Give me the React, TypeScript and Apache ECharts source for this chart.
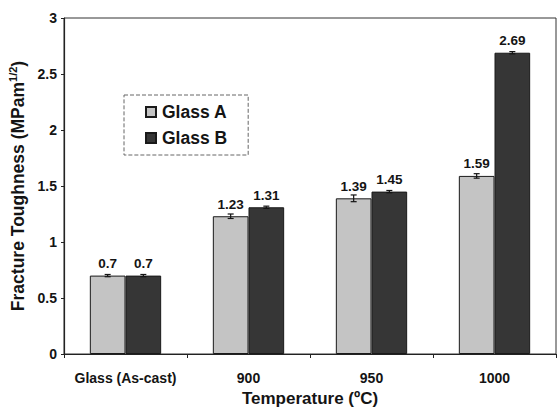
import React, { useEffect, useRef } from "react";
import * as echarts from "echarts";

const categories = ["Glass (As-cast)", "900", "950", "1000"];
const glassA = [0.7, 1.23, 1.39, 1.59];
const glassB = [0.7, 1.31, 1.45, 2.69];
const errA = [0.01, 0.02, 0.03, 0.02];
const errB = [0.01, 0.01, 0.01, 0.01];

const FONT = "'Liberation Sans', Arial, sans-serif";
const INK = "#141414";

export default function App() {
  const ref = useRef<HTMLDivElement>(null);
  useEffect(() => {
    const chart = echarts.init(ref.current!, undefined, { renderer: "svg" });
    const gapPct = 0.42;
    const makeErr = (vals: number[], errs: number[], side: number) => ({
      type: "custom",
      z: 5,
      renderItem: (params: any, api: any) => {
        const i = api.value(0);
        const v = api.value(1);
        const e = api.value(2);
        const band = api.size([1, 0])[0];
        const bw = (band * (1 - gapPct)) / 2;
        const c = api.coord([i, v]);
        const x = c[0] + side * bw / 2;
        const top = api.coord([i, v + e])[1];
        const bot = api.coord([i, v - e])[1];
        const cap = 3;
        const st = { stroke: INK, lineWidth: 1.2 };
        return {
          type: "group",
          children: [
            { type: "line", shape: { x1: x, y1: top, x2: x, y2: bot }, style: st },
            { type: "line", shape: { x1: x - cap, y1: top, x2: x + cap, y2: top }, style: st },
            { type: "line", shape: { x1: x - cap, y1: bot, x2: x + cap, y2: bot }, style: st },
          ],
        };
      },
      data: vals.map((v, i) => [i, v, errs[i]]),
      silent: true,
    });
    const labelStyle = {
      show: true,
      position: "top",
      distance: 5,
      fontFamily: FONT,
      fontWeight: "bold",
      fontSize: 13.5,
      color: INK,
    };
    chart.setOption({
      animation: false,
      backgroundColor: "#fff",
      textStyle: { fontFamily: FONT },
      grid: {
        left: 64,
        right: 1,
        top: 18,
        bottom: 55,
        show: true,
        borderColor: "#333",
        borderWidth: 1,
        outerBoundsMode: "none",
        containLabel: false,
      },
      legend: {
        left: 124,
        top: 95,
        orient: "vertical",
        padding: [8, 21, 8, 21],
        itemGap: 8,
        itemWidth: 10,
        itemHeight: 10,
        icon: "rect",
        borderColor: "#666",
        borderWidth: 1,
        borderType: "dashed",
        data: ["Glass A", "Glass B"],
        textStyle: { fontFamily: FONT, fontWeight: "bold", fontSize: 17.5, color: INK, padding: [0, 0, 0, 1] },
      },
      xAxis: {
        type: "category",
        data: categories,
        axisLine: { lineStyle: { color: "#222", width: 1.2 } },
        axisTick: { show: true, length: 4, lineStyle: { color: "#222" } },
        axisLabel: {
          interval: 0,
          margin: 17,
          fontFamily: FONT,
          fontWeight: "bold",
          fontSize: 14,
          color: INK,
        },
        name: "Temperature (ºC)",
        nameLocation: "middle",
        nameGap: 36,
        nameTextStyle: { fontFamily: FONT, fontWeight: "bold", fontSize: 17, color: INK },
      },
      yAxis: {
        type: "value",
        min: 0,
        max: 3,
        interval: 0.5,
        splitLine: { show: false },
        axisLine: { show: true, lineStyle: { color: "#222", width: 1.2 } },
        axisTick: { show: true, length: 3, lineStyle: { color: "#222" } },
        axisLabel: {
          margin: 7,
          fontFamily: FONT,
          fontWeight: "bold",
          fontSize: 14,
          color: INK,
        },
        name: "{a|Fracture Toughness (MPam}{s|1/2}{a|)}",
        nameLocation: "middle",
        nameGap: 33,
        nameTextStyle: {
          rich: {
            a: { fontFamily: FONT, fontWeight: "bold", fontSize: 17.5, color: INK },
            s: { fontFamily: FONT, fontWeight: "bold", fontSize: 11, color: INK, verticalAlign: "top", padding: [0, 0, 9, 0] },
          },
        },
      },
      series: [
        {
          name: "Glass A",
          type: "bar",
          data: glassA,
          barGap: "0%",
          barCategoryGap: "42%",
          itemStyle: { color: "#c4c4c4", borderColor: "#1a1a1a", borderWidth: 1 },
          label: { ...labelStyle, formatter: (p: any) => String(p.value) },
        },
        {
          name: "Glass B",
          type: "bar",
          data: glassB,
          barGap: "0%",
          barCategoryGap: "42%",
          itemStyle: { color: "#363636", borderColor: "#1a1a1a", borderWidth: 1 },
          label: { ...labelStyle, formatter: (p: any) => String(p.value) },
        },
        makeErr(glassA, errA, -1),
        makeErr(glassB, errB, 1),
      ],
    });
    return () => chart.dispose();
  }, []);
  return <div ref={ref} style={{ width: 557, height: 409, position: "absolute", left: 0, top: 0 }} />;
}
